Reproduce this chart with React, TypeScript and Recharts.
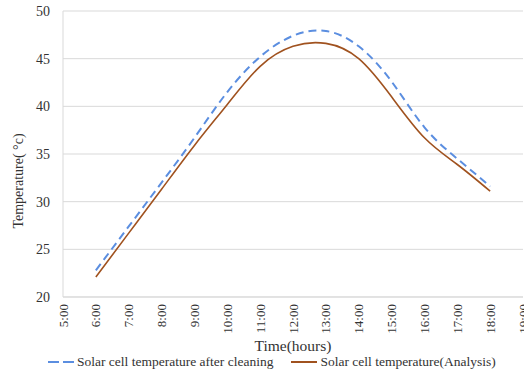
import { LineChart, Line, XAxis, YAxis, CartesianGrid, Legend, Label } from "recharts";

const hours = [6, 7, 8, 9, 10, 11, 12, 13, 14, 15, 16, 17, 18];
const afterCleaning = [22.8, 27.4, 32.0, 36.7, 41.5, 45.2, 47.4, 47.9, 46.3, 42.6, 37.8, 34.5, 31.6];
const analysis = [22.1, 26.7, 31.3, 35.9, 40.2, 44.2, 46.3, 46.6, 45.0, 41.0, 36.7, 33.9, 31.1];
const xTicks = [5, 6, 7, 8, 9, 10, 11, 12, 13, 14, 15, 16, 17, 18, 19];
const yTicks = [20, 25, 30, 35, 40, 45, 50];

const seriesNames = ["Solar cell temperature after cleaning", "Solar cell temperature(Analysis)"];

const FONT = "'Liberation Serif', 'Times New Roman', serif";
const BLUE = "#5b8ee0";
const BROWN = "#a0521f";
const GRID = "#d9d9d9";

const chartData = hours.map((h, i) => ({
    hour: h,
    cleaned: afterCleaning[i],
    analysis: analysis[i],
}));

function HourTick({ x, y, payload }: any) {
    return (
        <text
            x={x}
            y={y}
            transform={`rotate(-90 ${x} ${y})`}
            textAnchor="end"
            dominantBaseline="central"
            fontFamily={FONT}
            fontSize={13}
            fill="#333"
        >
            {`${payload.value}:00`}
        </text>
    );
}

function ChartLegend() {
    return (
        <div style={{ display: "flex", alignItems: "center", height: 26, fontFamily: FONT, fontSize: 13.5, color: "#333" }}>
            <svg width={26} height={10} style={{ marginLeft: 48, marginRight: 3 }}>
                <line x1={0} y1={5} x2={26} y2={5} stroke={BLUE} strokeWidth={2} strokeDasharray="11 4" />
            </svg>
            <span style={{ whiteSpace: "nowrap" }}>{seriesNames[0]}</span>
            <svg width={26} height={10} style={{ marginLeft: 18, marginRight: 3 }}>
                <line x1={0} y1={5} x2={26} y2={5} stroke={BROWN} strokeWidth={2} />
            </svg>
            <span style={{ whiteSpace: "nowrap" }}>{seriesNames[1]}</span>
        </div>
    );
}

export default function App() {
    return (
        <div style={{ position: "absolute", left: 0, top: 0, background: "#fff" }}>
            <LineChart width={524} height={375} data={chartData} margin={{ top: 11, right: 1, left: 0, bottom: 0 }}>
                <CartesianGrid vertical={false} stroke={GRID} />
                <XAxis
                    dataKey="hour"
                    type="number"
                    domain={[5, 19]}
                    ticks={xTicks}
                    interval={0}
                    height={52}
                    tickSize={0}
                    tickMargin={7}
                    tick={<HourTick />}
                    axisLine={{ stroke: GRID }}
                    tickLine={false}
                >
                    <Label
                        value="Time(hours)"
                        position="insideBottom"
                        offset={-2}
                        style={{ fontFamily: FONT, fontSize: 15.5, fill: "#333" }}
                    />
                </XAxis>
                <YAxis
                    domain={[20, 50]}
                    ticks={yTicks}
                    width={63}
                    tickSize={0}
                    tickMargin={13}
                    tickLine={false}
                    axisLine={{ stroke: GRID }}
                    tick={{ fontFamily: FONT, fontSize: 14, fill: "#333" }}
                >
                    <Label
                        content={({ viewBox }: any) => {
                            const cx = 18;
                            const cy = viewBox.y + viewBox.height / 2 + 27;
                            return (
                                <text
                                    x={cx}
                                    y={cy}
                                    transform={`rotate(-90 ${cx} ${cy})`}
                                    textAnchor="middle"
                                    dominantBaseline="central"
                                    fontFamily={FONT}
                                    fontSize={14}
                                    fill="#333"
                                >
                                    Temperature( °c)
                                </text>
                            );
                        }}
                    />
                </YAxis>
                <Legend verticalAlign="bottom" align="left" content={<ChartLegend />} />
                <Line
                    type="natural"
                    dataKey="cleaned"
                    name={seriesNames[0]}
                    stroke={BLUE}
                    strokeWidth={2}
                    strokeDasharray="8 5"
                    dot={false}
                    isAnimationActive={false}
                />
                <Line
                    type="natural"
                    dataKey="analysis"
                    name={seriesNames[1]}
                    stroke={BROWN}
                    strokeWidth={1.6}
                    dot={false}
                    isAnimationActive={false}
                />
            </LineChart>
        </div>
    );
}
